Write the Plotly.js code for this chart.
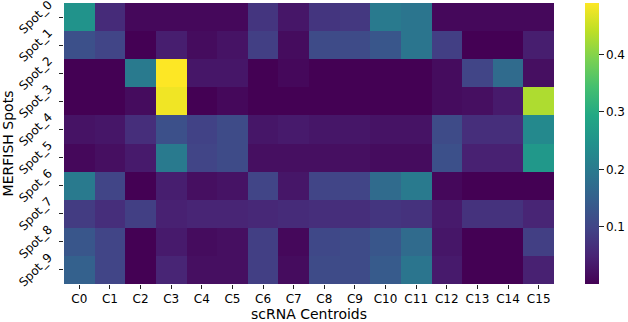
<!DOCTYPE html>
<html>
<head>
<meta charset="utf-8">
<script src="https://cdn.plot.ly/plotly-3.0.1.min.js"></script>
<style>
  html, body { margin: 0; padding: 0; background: #fff; }
  #chart { width: 628px; height: 322px; }
</style>
</head>
<body>
<div id="chart"></div>
<script>
var centroids = ['C0','C1','C2','C3','C4','C5','C6','C7','C8','C9','C10','C11','C12','C13','C14','C15'];
var spots = ['Spot_0','Spot_1','Spot_2','Spot_3','Spot_4','Spot_5','Spot_6','Spot_7','Spot_8','Spot_9'];

// similarity of each MERFISH spot (row) to each scRNA centroid (column)
var spot0 = [0.25, 0.06, 0.01, 0.01, 0.01, 0.01, 0.075, 0.03, 0.075, 0.08, 0.20, 0.19, 0.01, 0.01, 0.01, 0.01];
var spot1 = [0.12, 0.10, 0.00, 0.04, 0.015, 0.025, 0.09, 0.015, 0.11, 0.11, 0.13, 0.19, 0.09, 0.00, 0.00, 0.04];
var spot2 = [0.00, 0.00, 0.20, 0.49, 0.03, 0.03, 0.00, 0.01, 0.00, 0.00, 0.00, 0.00, 0.015, 0.10, 0.17, 0.02];
var spot3 = [0.00, 0.00, 0.015, 0.48, 0.00, 0.01, 0.00, 0.00, 0.00, 0.00, 0.00, 0.00, 0.015, 0.02, 0.035, 0.43];
var spot4 = [0.025, 0.03, 0.065, 0.12, 0.095, 0.11, 0.03, 0.035, 0.03, 0.03, 0.025, 0.025, 0.11, 0.065, 0.065, 0.23];
var spot5 = [0.01, 0.02, 0.035, 0.20, 0.10, 0.11, 0.02, 0.02, 0.02, 0.02, 0.015, 0.015, 0.12, 0.045, 0.045, 0.26];
var spot6 = [0.20, 0.10, 0.00, 0.04, 0.02, 0.025, 0.10, 0.03, 0.10, 0.10, 0.17, 0.20, 0.01, 0.00, 0.00, 0.00];
var spot7 = [0.085, 0.065, 0.09, 0.045, 0.05, 0.05, 0.055, 0.06, 0.065, 0.065, 0.075, 0.07, 0.035, 0.07, 0.07, 0.05];
var spot8 = [0.13, 0.10, 0.00, 0.035, 0.015, 0.02, 0.09, 0.01, 0.105, 0.11, 0.13, 0.17, 0.03, 0.00, 0.00, 0.09];
var spot9 = [0.15, 0.10, 0.00, 0.05, 0.02, 0.02, 0.09, 0.015, 0.11, 0.11, 0.14, 0.19, 0.035, 0.00, 0.00, 0.045];

var cbTicks = [0.1, 0.2, 0.3, 0.4];

// matplotlib viridis, sampled
var viridis = [
  [0.0, '#440154'], [0.1, '#482475'], [0.2, '#414487'], [0.3, '#355f8d'],
  [0.4, '#2a788e'], [0.5, '#21918c'], [0.6, '#22a884'], [0.7, '#44bf70'],
  [0.8, '#7ad151'], [0.9, '#bddf26'], [1.0, '#fde725']
];

var W = 628, H = 322;
// heatmap box in pixels: x 64..554, y 3..284 ; colorbar bar at x 585..599
var trace = {
  type: 'heatmap',
  x: centroids,
  y: spots,
  z: [spot0, spot1, spot2, spot3, spot4, spot5, spot6, spot7, spot8, spot9],
  colorscale: viridis,
  zmin: 0,
  zmax: 0.49,
  colorbar: {
    x: 585 / W,
    xanchor: 'left',
    xpad: 0,
    y: 1 - 3 / H,
    yanchor: 'top',
    ypad: 0,
    len: (284 - 3) / H,
    thickness: 14,
    outlinewidth: 0,
    tickvals: cbTicks,
    ticktext: cbTicks.map(function(v){ return v.toFixed(1); }),
    ticks: 'outside',
    ticklen: 5,
    tickcolor: '#222',
    tickfont: { family: 'DejaVu Sans', size: 12, color: '#000' }
  }
};

var layout = {
  width: W,
  height: H,
  margin: { l: 0, r: 0, t: 0, b: 0, pad: 0, autoexpand: false },
  paper_bgcolor: '#fff',
  plot_bgcolor: '#fff',
  font: { family: 'DejaVu Sans', size: 12, color: '#000' },
  xaxis: {
    domain: [64 / W, 554 / W],
    title: { text: 'scRNA Centroids', standoff: 2 },
    ticks: 'outside',
    ticklen: 4,
    tickcolor: '#222',
    automargin: false,
    showgrid: false,
    zeroline: false,
    showline: false
  },
  yaxis: {
    domain: [1 - 284 / H, 1 - 3 / H],
    title: { text: 'MERFISH Spots', standoff: 0 },
    autorange: 'reversed',
    ticks: 'outside',
    ticklen: 4,
    tickcolor: '#222',
    tickangle: -45,
    ticklabelstandoff: 8,
    ticklabelshift: 14,
    automargin: false,
    showgrid: false,
    zeroline: false,
    showline: false
  }
};

Plotly.newPlot('chart', [trace], layout, { displayModeBar: false, staticPlot: true });
</script>
</body>
</html>
